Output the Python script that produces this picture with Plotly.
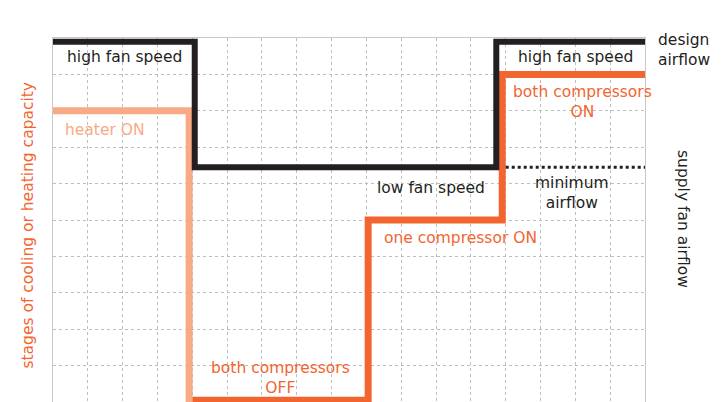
import plotly.graph_objects as go

# Data (grid units: x = time columns 0..17, y = stage rows 0..10)
fan_x = [0, 4.07, 4.07, 12.73, 12.73, 17]
fan_y = [9.9, 9.9, 6.45, 6.45, 9.9, 9.9]
min_air_x = [13.0, 17]
min_air_y = [6.45, 6.45]
heater_x = [0, 3.91, 3.91]
heater_y = [8.0, 8.0, -0.5]
comp_x = [3.91, 9.05, 9.05, 12.9, 12.9, 17]
comp_y = [0.05, 0.05, 5.0, 5.0, 9.0, 9.0]

BLACK = "#231F20"
ORANGE = "#F26531"
SALMON = "#F8AA86"
GRID = "#BDBDBD"
FONT = "DejaVu Sans"
FS = 15.5

fig = go.Figure()
fig.add_trace(go.Scatter(x=comp_x, y=comp_y, mode="lines",
                         line=dict(color=ORANGE, width=7), cliponaxis=False, hoverinfo="skip"))
fig.add_trace(go.Scatter(x=heater_x, y=heater_y, mode="lines",
                         line=dict(color=SALMON, width=7), hoverinfo="skip"))
fig.add_trace(go.Scatter(x=min_air_x, y=min_air_y, mode="lines",
                         line=dict(color=BLACK, width=3, dash="3px,3px"), hoverinfo="skip"))
fig.add_trace(go.Scatter(x=fan_x, y=fan_y, mode="lines",
                         line=dict(color=BLACK, width=6), cliponaxis=False, hoverinfo="skip"))

def ann(text, x, y, color, xanchor="center", xref="x", yref="y", angle=0, align="center"):
    fig.add_annotation(text=text, x=x, y=y, xref=xref, yref=yref, showarrow=False,
                       xanchor=xanchor, yanchor="middle", textangle=angle, align=align,
                       font=dict(family=FONT, size=FS, color=color))

ann("high fan speed", 2.04, 9.48, BLACK)
ann("heater ON", 0.3, 7.47, SALMON, xanchor="left")
ann("low fan speed", 10.86, 5.88, BLACK)
ann("minimum<br>airflow", 14.91, 5.73, BLACK)
ann("high fan speed", 15.0, 9.48, BLACK)
ann("both compressors<br>ON", 15.2, 8.24, ORANGE)
ann("one compressor ON", 11.7, 4.5, ORANGE)
ann("both compressors<br>OFF", 6.52, 0.67, ORANGE)
ann("design<br>airflow", 1.018, 0.968, BLACK, xanchor="left", xref="paper", yref="paper", align="left")
ann("supply fan airflow", 1.064, 0.503, BLACK, xref="paper", yref="paper", angle=90)
ann("stages of cooling or heating capacity", -0.042, 0.485, ORANGE, xref="paper", yref="paper", angle=-90)

fig.update_xaxes(range=[0, 17], dtick=1, tick0=0, showgrid=True, griddash="dot",
                 gridcolor=GRID, gridwidth=1, showticklabels=False, ticks="",
                 zeroline=False, showline=True, linecolor="#C8C8C8", linewidth=1, mirror=True)
fig.update_yaxes(range=[0, 10], dtick=1, tick0=0, showgrid=True, griddash="dot",
                 gridcolor=GRID, gridwidth=1, showticklabels=False, ticks="",
                 zeroline=False, showline=True, linecolor="#C8C8C8", linewidth=1, mirror=True)

# page body has an 8px margin, so the figure is drawn 8px in from the top-left
fig.update_layout(width=718, height=394, margin=dict(l=45, r=81, t=30, b=0),
                  plot_bgcolor="white", paper_bgcolor="white", showlegend=False)

fig.write_html("out.html")
